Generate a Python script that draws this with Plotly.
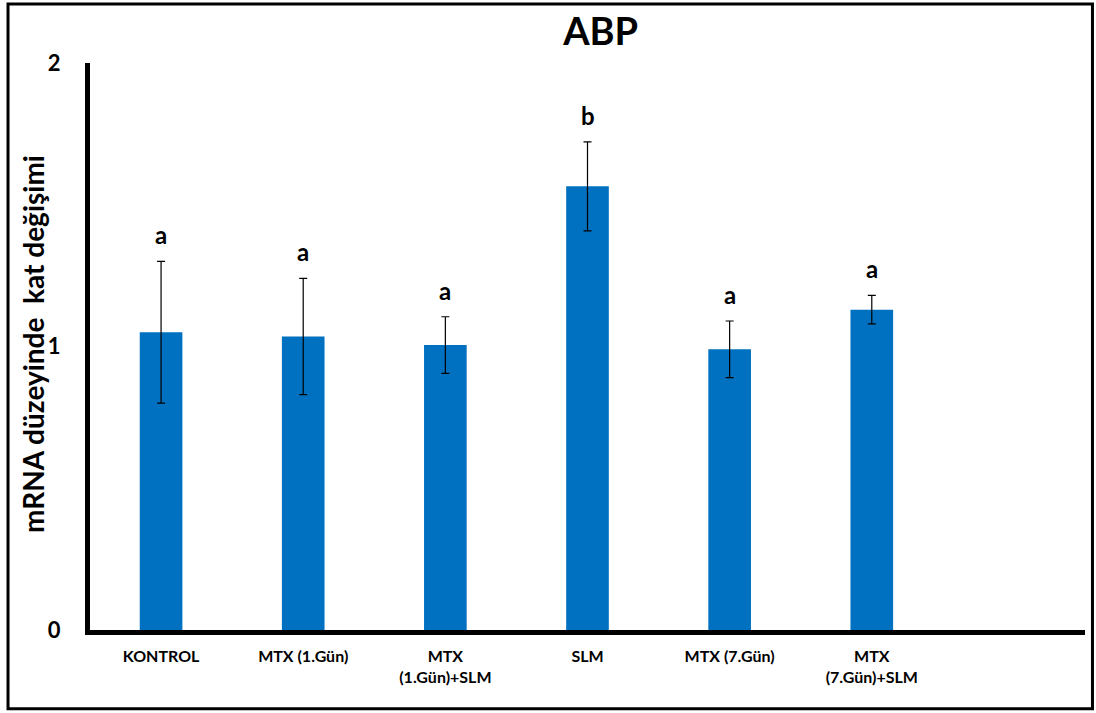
import plotly.graph_objects as go

# Relative ABP mRNA expression per group
groups = ["KONTROL", "MTX (1.Gün)", "MTX<br>(1.Gün)+SLM", "SLM", "MTX (7.Gün)", "MTX<br>(7.Gün)+SLM"]
fold_change = [1.05, 1.035, 1.005, 1.565, 0.99, 1.13]
std_error = [0.25, 0.205, 0.10, 0.157, 0.10, 0.05]
sig_letters = ["a", "a", "a", "b", "a", "a"]
y_ticks = [0, 1, 2]

FONT = "Lato, 'Open Sans', sans-serif"
BAR_BLUE = "#0070C0"

x_pos = list(range(len(groups)))

fig = go.Figure()
fig.add_trace(go.Bar(
    x=x_pos,
    y=fold_change,
    width=0.3,
    marker=dict(color=BAR_BLUE, line=dict(width=0)),
    error_y=dict(type="data", array=std_error, visible=True,
                 color="black", thickness=1.2, width=4),
    showlegend=False,
    hoverinfo="skip",
))

# significance letters above each error bar
for xi, v, e, letter in zip(x_pos, fold_change, std_error, sig_letters):
    fig.add_annotation(
        x=xi, y=v + e, text=f"<b>{letter}</b>", showarrow=False,
        yanchor="bottom", yshift=10,
        font=dict(family=FONT, size=24, color="black"),
    )

# y-axis title
fig.add_annotation(
    xref="paper", yref="paper", x=-0.058, y=0.505,
    text="<b>mRNA düzeyinde&nbsp;&nbsp;kat değişimi</b>",
    textangle=-90, showarrow=False, xanchor="center", yanchor="middle",
    font=dict(family=FONT, size=28, color="black"),
)

# outer frame around the whole chart
fig.add_shape(
    type="rect", xref="paper", yref="paper",
    x0=-0.0824, x1=1.0075, y0=-0.139, y1=1.104,
    line=dict(color="black", width=3), fillcolor="rgba(0,0,0,0)", layer="below",
)

fig.update_layout(
    width=1096, height=713,
    margin=dict(l=90, r=11, t=63, b=83),
    paper_bgcolor="white", plot_bgcolor="white",
    font=dict(family=FONT, color="black"),
    title=dict(text="<b>ABP</b>", x=0.548, xanchor="center", y=0.955, yanchor="middle",
               font=dict(family=FONT, size=38, color="black")),
    xaxis=dict(
        range=[-0.5, 6.5], tickmode="array", tickvals=x_pos, ticktext=[f"<b>{g}</b>" for g in groups],
        showline=True, linecolor="black", linewidth=5, showgrid=False, zeroline=False,
        ticks="outside", ticklen=8, tickcolor="rgba(0,0,0,0)",
        tickfont=dict(family=FONT, size=16, color="black"),
    ),
    yaxis=dict(
        range=[0, 2], tickmode="array", tickvals=y_ticks, ticktext=[f"<b>{t}</b>" for t in y_ticks],
        showline=True, linecolor="black", linewidth=5, showgrid=False, zeroline=False,
        ticks="outside", ticklen=20, tickcolor="rgba(0,0,0,0)",
        tickfont=dict(family=FONT, size=22, color="black"),
    ),
)

fig.write_html("out.html")
